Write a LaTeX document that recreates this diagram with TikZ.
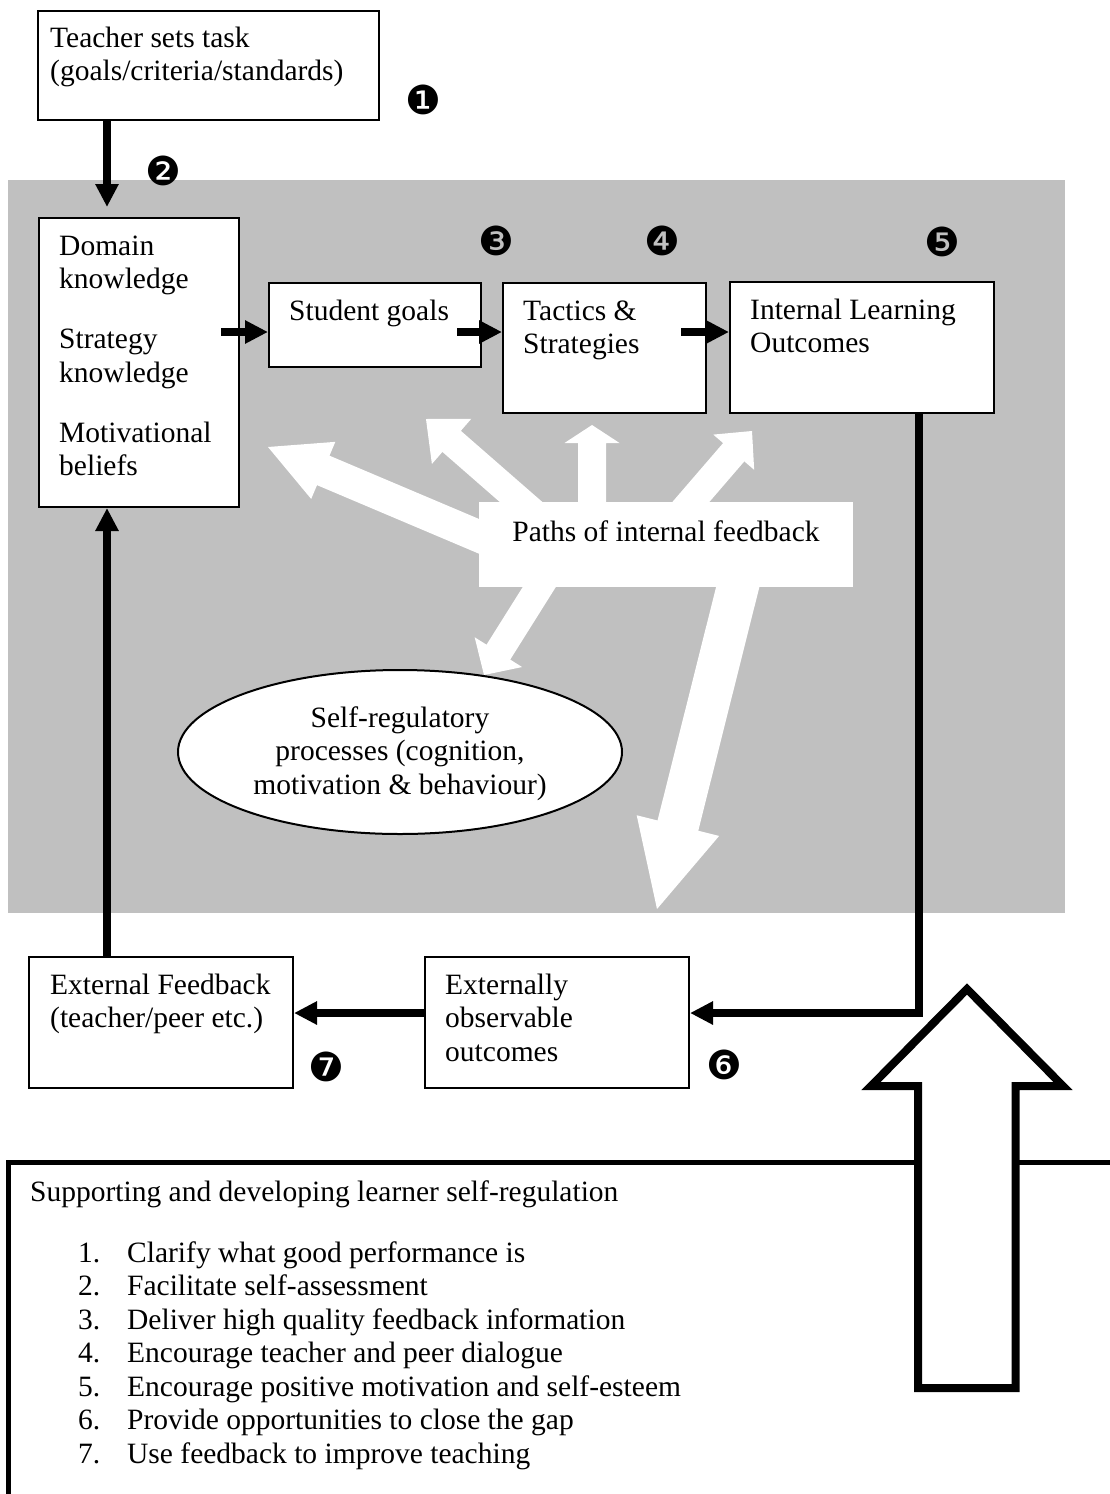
\documentclass[tikz,border=0pt]{standalone}
\usepackage{fontspec}
\setmainfont{Liberation Serif}
\newfontfamily\dingfont{DejaVu Sans}
\usetikzlibrary{arrows.meta,shapes.geometric,calc}
\definecolor{bg}{RGB}{192,192,192}
\newcommand\lines[1]{\vtop{\halign{##\hfil\cr#1\crcr}}}
\newcommand\clines[1]{\vtop{\halign{\hfil##\hfil\cr#1\crcr}}}
% start, tip, shaft half width, head half width, head length
\newcommand\fatarrow[5]{%
  \coordinate (fab) at ($(#2)!#5!(#1)$);
  \fill[white] ($(#1)!#3!90:(#2)$) -- ($(fab)!#3!90:(#2)$) -- ($(fab)!#4!90:(#2)$) -- (#2)
    -- ($(fab)!#4!-90:(#2)$) -- ($(fab)!#3!-90:(#2)$) -- ($(#1)!#3!-90:(#2)$) -- cycle;}
\tikzset{
  box/.style={draw, line width=2pt, fill=white, inner sep=0pt, anchor=north west},
  txt/.style={inner sep=0pt, font=\fontsize{29.5}{33.5}\selectfont, anchor=base west},
  arr/.style={line width=8pt, line join=miter, -{Triangle[length=23pt,width=22pt]}},
  num/.style={font=\dingfont\fontsize{40}{40}\selectfont, inner sep=0pt},
}
\begin{document}
\begin{tikzpicture}[x=1pt,y=-1pt]
\useasboundingbox (0,0) rectangle (1109,1494);
% grey region
\fill[bg] (8,180) rectangle (1065,913);

% boxes
\node[box, minimum width=341pt, minimum height=109pt] (teacher) at (37,10) {};
\node[box, minimum width=200pt, minimum height=289pt] (dom) at (38,217) {};
\node[box, minimum width=212pt, minimum height=84pt] (sg) at (268,282) {};
\node[box, minimum width=203pt, minimum height=130pt] (tac) at (502,282) {};
\node[box, minimum width=264pt, minimum height=131pt] (ilo) at (729,281) {};
\node[box, minimum width=264pt, minimum height=131pt] (ext) at (28,956) {};
\node[box, minimum width=264pt, minimum height=131pt] (obs) at (424,956) {};

% texts
\node[txt] (teachert) at (50,47) {\lines{Teacher sets task\cr (goals/criteria/standards)}};
\node[txt] (domt) at (59,255) {\lines{Domain\cr knowledge\cr\noalign{\vskip26.5pt} Strategy\cr knowledge\cr\noalign{\vskip26.5pt} Motivational\cr beliefs}};
\node[txt] (sgt) at (289,320) {Student goals};
\node[txt] (tact) at (523,320) {\lines{Tactics \&\cr Strategies}};
\node[txt] (ilot) at (750,319) {\lines{Internal Learning\cr Outcomes}};
\node[txt] (extt) at (50,994) {\lines{External Feedback\cr (teacher/peer etc.)}};
\node[txt] (obst) at (445,994) {\lines{Externally\cr observable\cr outcomes}};

% numbered markers
\node[num] (m1) at (423,100) {❶};
\node[num] (m2) at (163,171) {❷};
\node[num] (m3) at (496,241) {❸};
\node[num] (m4) at (662,241) {❹};
\node[num] (m5) at (942,242) {❺};
\node[num] (m6) at (724,1065) {❻};
\node[num] (m7) at (326,1067) {❼};

% black connectors
\coordinate (colA) at (107,0);
\coordinate (colC) at (919,0);
\coordinate (rowA) at (0,332);
\coordinate (rowB) at (0,1013);
\draw[arr, shorten >=10pt] (teacher.south -| colA) -- (dom.north -| colA);
\draw[arr] ([xshift=-19pt]dom.east |- rowA) -- (sg.west |- rowA);
\draw[arr] ([xshift=-25pt]sg.east |- rowA) -- (tac.west |- rowA);
\draw[arr] ([xshift=-26pt]tac.east |- rowA) -- (ilo.west |- rowA);
\draw[arr] (ilo.south -| colC) |- (obs.east |- rowB);
\draw[arr] (obs.west |- rowB) -- (ext.east |- rowB);
\draw[arr] (ext.north -| colA) -- (dom.south -| colA);

% white paths of internal feedback
\coordinate (t1) at (268,447);
\coordinate (t2) at (426,419);
\coordinate (t3) at (592,425);
\coordinate (t4) at (752,431);
\coordinate (t5) at (484,675);
\coordinate (t6) at (657,909);
\coordinate (s1) at (516,552);
\coordinate (s2) at (544,522);
\coordinate (s3) at (592,530);
\coordinate (s4) at (671,525);
\coordinate (s5) at (555,562);
\coordinate (s6) at (745,558);
\fatarrow{s1}{t1}{16pt}{31pt}{60pt}
\fatarrow{s2}{t2}{14pt}{30pt}{34pt}
\fatarrow{s3}{t3}{14pt}{27.5pt}{18pt}
\fatarrow{s4}{t4}{14pt}{27pt}{28pt}
\fatarrow{s5}{t5}{14pt}{28pt}{27pt}
\fatarrow{s6}{t6}{21pt}{42.5pt}{86pt}
\node[fill=white, inner sep=0pt, minimum width=374pt, minimum height=85pt, anchor=north west] (paths) at (479,502) {};
\node[txt, anchor=base] (pathst) at (666,541) {Paths of internal feedback};

% ellipse
\node[ellipse, draw, line width=2pt, fill=white, minimum width=444pt, minimum height=164pt, inner sep=0pt] (srp) at (400,752) {};
\node[txt, anchor=base] (srpt) at (400,727) {\clines{Self-regulatory\cr processes (cognition,\cr motivation \& behaviour)}};

% bottom panel
\draw[line width=5pt] (8.5,1500) -- (8.5,1162.5) -- (1115,1162.5);
\node[txt] (supt) at (30,1201) {Supporting and developing learner self-regulation};
\node[txt] (list) at (78,1262) {\lines{%
\makebox[49pt][l]{1.}Clarify what good performance is\cr
\makebox[49pt][l]{2.}Facilitate self-assessment\cr
\makebox[49pt][l]{3.}Deliver high quality feedback information\cr
\makebox[49pt][l]{4.}Encourage teacher and peer dialogue\cr
\makebox[49pt][l]{5.}Encourage positive motivation and self-esteem\cr
\makebox[49pt][l]{6.}Provide opportunities to close the gap\cr
\makebox[49pt][l]{7.}Use feedback to improve teaching}};

% hollow up arrow
\draw[line width=8pt, line join=miter, fill=white] (967,989) -- (1063,1086) -- (1015.5,1086) -- (1015.5,1388)
  -- (918,1388) -- (918,1086) -- (871,1086) -- cycle;
\end{tikzpicture}
\end{document}
